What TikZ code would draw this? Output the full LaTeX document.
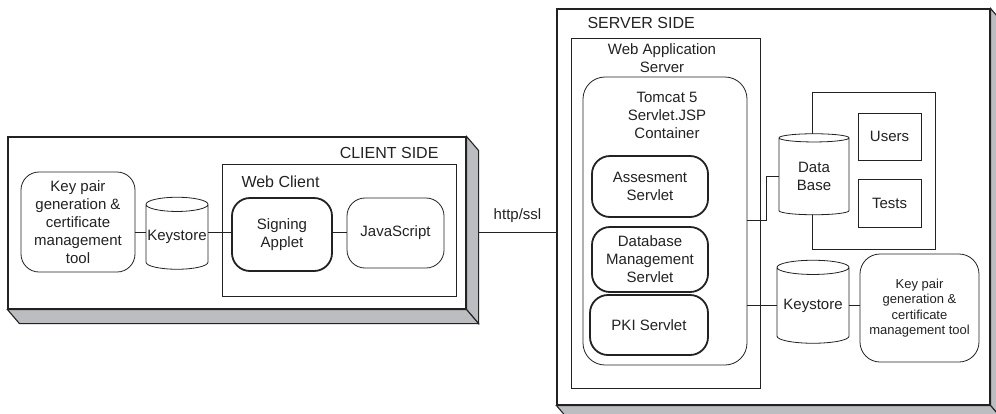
\documentclass[tikz,border=0pt]{standalone}
\usepackage{fontspec}
\setmainfont{Liberation Sans}
\usetikzlibrary{shapes.geometric,calc}

\definecolor{linec}{HTML}{222222}
\definecolor{shadec}{HTML}{BCBDC0}

\tikzset{
	sidebox/.style={draw=linec, fill=white, line width=1.1pt},
	shadeface/.style={draw=linec, fill=shadec, line width=1.1pt},
	plainbox/.style={draw=linec, line width=0.8pt},
	tool/.style={draw=linec, line width=0.8pt, rounded corners=18pt, align=center, fill=white},
	servlet/.style={tool, line width=1.8pt},
	store/.style={cylinder, shape border rotate=90, draw=linec, line width=0.8pt, fill=white, aspect=0.24, inner sep=0pt},
	link/.style={draw=linec, line width=0.8pt},
	body/.style={font=\fontsize{15}{18}\selectfont, text=linec},
	head/.style={font=\fontsize{16}{19}\selectfont, text=linec},
	small/.style={font=\fontsize{13}{15.5}\selectfont, text=linec}
}

\begin{document}
\begin{tikzpicture}[x=1pt,y=-1pt]
			\useasboundingbox (0,0) rectangle (996,413);
			
			%Client side box
			\node (clientBox) at (237,223) [sidebox, minimum width=458, minimum height=172]{};
			\fill[shadeface] (clientBox.north east) -- ++(12,14) -- ($(clientBox.south east)+(12,14)$) -- (clientBox.south east) -- cycle;
			\fill[shadeface] (clientBox.south west) -- ++(12,14) -- ($(clientBox.south east)+(12,14)$) -- (clientBox.south east) -- cycle;
			\node (clientTitle) at (442,153) [head, anchor=east]{CLIENT SIDE};
			
			%Server side box
			\node (serverBox) at (773.5,207) [sidebox, minimum width=433, minimum height=396]{};
			\fill[shadeface] (serverBox.north east) -- ++(12,14) -- ($(serverBox.south east)+(12,14)$) -- (serverBox.south east) -- cycle;
			\fill[shadeface] (serverBox.south west) -- ++(12,14) -- ($(serverBox.south east)+(12,14)$) -- (serverBox.south east) -- cycle;
			\node (serverTitle) at (584,23) [head, anchor=west]{SERVER SIDE};
			
			%Client nodes
			\node (keyToolC) at (78,222) [tool, body, minimum width=114, minimum height=100]{Key pair\\generation \&\\certificate\\management\\tool};
			\node (keystoreC) at (177,237) [store, body, minimum width=62, minimum height=72]{Keystore};
			\node (webClient) at (339,230) [plainbox, minimum width=234, minimum height=132]{};
			\node (webClientTitle) at (238,182) [head, anchor=west]{Web Client};
			\node (signing) at (282,234.5) [servlet, body, minimum width=100, minimum height=73]{Signing\\Applet};
			\node (javaScript) at (395.5,233) [tool, body, minimum width=97, minimum height=70]{JavaScript};
			\coordinate (clientRow) at (0,232);
			
			%Server nodes
			\node (webApp) at (665.5,213) [plainbox, minimum width=189, minimum height=350]{};
			\node (webAppTitle) at (662,58.5) [body, align=center]{Web Application\\Server};
			\node (tomcat) at (665,221) [tool, rounded corners=22pt, minimum width=164, minimum height=288]{};
			\node (tomcatTitle) at (667,115) [body, align=center]{Tomcat 5\\Servlet.JSP\\Container};
			\node (assess) at (650,186.5) [servlet, body, minimum width=116, minimum height=61]{Assesment\\Servlet};
			\node (dbMgmt) at (650,259.5) [servlet, body, minimum width=116, minimum height=65]{Database\\Management\\Servlet};
			\node (pki) at (649,325) [servlet, body, minimum width=118, minimum height=60]{PKI Servlet};
			
			\node (tableBox) at (873.5,170.5) [plainbox, minimum width=123, minimum height=157]{};
			\node (users) at (889.5,136.5) [plainbox, body, minimum width=63, minimum height=47]{Users};
			\node (tests) at (889.5,203) [plainbox, body, minimum width=63, minimum height=48]{Tests};
			\node (dataBase) at (814,176.5) [store, body, align=center, minimum width=70, minimum height=81]{Data\\Base};
			\node (keystoreS) at (813,305.5) [store, body, minimum width=72, minimum height=83]{Keystore};
			\node (keyToolS) at (919.5,308) [tool, small, rounded corners=20pt, minimum width=119, minimum height=108]{Key pair\\generation \&\\certificate\\management tool};
			\coordinate (dbJoint) at (766,220);
			
			%Links
			\draw[link] (keyToolC.east |- clientRow) -- (keystoreC.west |- clientRow);
			\draw[link] (keystoreC.east |- clientRow) -- (signing.west |- clientRow);
			\draw[link] (signing.east |- clientRow) -- (javaScript.west |- clientRow);
			\draw[link] ($(clientBox.east |- clientRow)+(12,0)$) -- (serverBox.west |- clientRow) node[midway, above=6pt, body]{http/ssl};
			\draw[link] (tomcat.east |- dbJoint) -- (dbJoint) |- (dataBase.west);
			\draw[link] (tomcat.east |- keystoreS.west) -- (keystoreS.west);
			\draw[link] (keystoreS.east) -- (keyToolS.west |- keystoreS.east);
			
\end{tikzpicture}
\end{document}
